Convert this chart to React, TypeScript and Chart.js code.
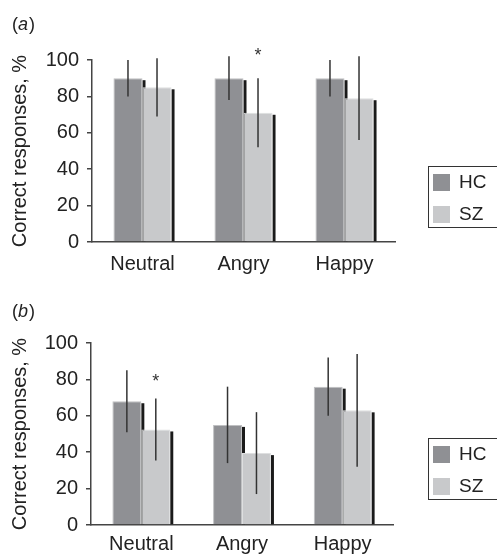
import React, { useEffect, useRef } from "react";
import { Chart, registerables } from "chart.js";

Chart.register(...registerables);

const categories = ["Neutral", "Angry", "Happy"];
const seriesNames = ["HC", "SZ"];
const yTicks = [0, 20, 40, 60, 80, 100];

// Panel (a)
const aHC = [90, 90, 90];
const aHCerr = [10, 12, 10];
const aSZ = [85, 71, 79];
const aSZerr = [16, 19, 23];
const aSZsig = [false, true, false];
const aHCsig = [false, false, false];

// Panel (b)
const bHC = [68, 55, 76];
const bHCerr = [17, 21, 16];
const bSZ = [52.5, 39.5, 63];
const bSZerr = [17, 22.5, 31];
const bSZsig = [true, false, false];
const bHCsig = [false, false, false];

const FONT = "'Liberation Sans', Arial, sans-serif";
const HC_COLOR = "#8f9094";
const HC_BORDER = "#bfc0c2";
const SZ_COLOR = "#c8c9cb";
const SZ_BORDER = "#dedfe0";

const shadowPlugin = {
  id: "barShadow",
  beforeDatasetsDraw(chart: any) {
    const ctx = chart.ctx;
    ctx.save();
    ctx.fillStyle = "#1a1a1a";
    chart.data.datasets.forEach((_: any, di: number) => {
      const meta = chart.getDatasetMeta(di);
      meta.data.forEach((bar: any) => {
        const right = bar.x + bar.width / 2;
        const top = bar.y + 2;
        ctx.fillRect(right, top, 3, bar.base - top);
      });
    });
    ctx.restore();
  },
};

const errorPlugin = {
  id: "errorBars",
  afterDatasetsDraw(chart: any) {
    const ctx = chart.ctx;
    const yScale = chart.scales.y;
    const starOffset = chart.options.plugins.decor.starOffset;
    ctx.save();
    chart.data.datasets.forEach((ds: any, di: number) => {
      const meta = chart.getDatasetMeta(di);
      meta.data.forEach((bar: any, i: number) => {
        const v = ds.data[i];
        const e = ds.errors[i];
        const yTop = yScale.getPixelForValue(v + e);
        const yBot = yScale.getPixelForValue(v - e);
        ctx.strokeStyle = "#333333";
        ctx.lineWidth = 1.5;
        ctx.beginPath();
        ctx.moveTo(bar.x, yTop);
        ctx.lineTo(bar.x, yBot);
        ctx.stroke();
        if (ds.sig[i]) {
          ctx.fillStyle = "#333333";
          ctx.font = `18px ${FONT}`;
          ctx.textAlign = "center";
          ctx.textBaseline = "alphabetic";
          ctx.fillText("*", bar.x, yTop - starOffset);
        }
      });
    });
    ctx.restore();
  },
};

const decorPlugin = {
  id: "decor",
  afterDraw(chart: any) {
    const ctx = chart.ctx;
    const o = chart.options.plugins.decor;
    ctx.save();
    // panel label
    ctx.fillStyle = "#222";
    ctx.textBaseline = "middle";
    ctx.textAlign = "left";
    ctx.font = `18px ${FONT}`;
    let x = o.labelX;
    ctx.fillText("(", x, o.labelY);
    x += ctx.measureText("(").width;
    ctx.font = `italic 18px ${FONT}`;
    ctx.fillText(o.label, x, o.labelY);
    x += ctx.measureText(o.label).width + 1;
    ctx.font = `18px ${FONT}`;
    ctx.fillText(")", x, o.labelY);

    // legend box
    const lx = o.legendX;
    const ly = o.legendY;
    ctx.strokeStyle = "#333";
    ctx.lineWidth = 1;
    ctx.strokeRect(lx + 0.5, ly + 0.5, 90, 61);
    const colors = [HC_COLOR, SZ_COLOR];
    chart.data.datasets.forEach((ds: any, i: number) => {
      const sy = ly + 8 + i * 32;
      ctx.fillStyle = colors[i];
      ctx.fillRect(lx + 5, sy, 17, 17);
      ctx.fillStyle = "#222";
      ctx.font = `19px ${FONT}`;
      ctx.textBaseline = "middle";
      ctx.fillText(ds.label, lx + 31, sy + 9);
    });
    ctx.restore();
  },
};

type PanelProps = {
  label: string;
  hc: number[];
  hcErr: number[];
  hcSig: boolean[];
  sz: number[];
  szErr: number[];
  szSig: boolean[];
  top: number;
  height: number;
  area: { left: number; top: number; right: number; bottom: number };
  labelY: number;
  legendY: number;
  xPad: number;
  starOffset: number;
};

function Panel(p: PanelProps) {
  const ref = useRef<HTMLCanvasElement>(null);
  useEffect(() => {
    if (!ref.current) return;
    const chart = new Chart(ref.current, {
      type: "bar",
      data: {
        labels: categories,
        datasets: [
          {
            label: seriesNames[0],
            data: p.hc,
            errors: p.hcErr,
            sig: p.hcSig,
            backgroundColor: HC_COLOR,
            borderColor: HC_BORDER,
            borderWidth: 1,
            borderSkipped: "bottom",
          } as any,
          {
            label: seriesNames[1],
            data: p.sz,
            errors: p.szErr,
            sig: p.szSig,
            backgroundColor: SZ_COLOR,
            borderColor: SZ_BORDER,
            borderWidth: 1,
            borderSkipped: "bottom",
          } as any,
        ],
      },
      options: {
        animation: false,
        responsive: false,
        maintainAspectRatio: false,
        datasets: { bar: { barPercentage: 1, categoryPercentage: 0.575 } },
        layout: {
          padding: {
            left: 0,
            top: p.area.top,
            right: 497 - p.area.right,
            bottom: 0,
          },
        },
        plugins: {
          legend: { display: false },
          tooltip: { enabled: false },
          decor: {
            label: p.label,
            labelX: 12,
            labelY: p.labelY,
            legendX: 428,
            legendY: p.legendY,
            starOffset: p.starOffset,
          },
        } as any,
        scales: {
          x: {
            grid: { display: false, drawTicks: false },
            border: { color: "#444", width: 1.5 },
            ticks: { color: "#222", font: { family: FONT, size: 20 }, padding: p.xPad },
            afterFit(scale: any) {
              scale.height = p.height - p.area.bottom;
            },
          },
          y: {
            min: 0,
            max: 100,
            afterBuildTicks(scale: any) {
              scale.ticks = yTicks.map((v) => ({ value: v }));
            },
            grid: { drawOnChartArea: false, drawTicks: true, tickLength: 5, color: "#444", lineWidth: 1.5 },
            border: { color: "#444", width: 1.5 },
            ticks: { color: "#222", font: { family: FONT, size: 20 }, padding: 8 },
            title: {
              display: true,
              text: "Correct responses, %",
              color: "#222",
              font: { family: FONT, size: 20 },
              padding: { top: 8, bottom: 0 },
            },
            afterFit(scale: any) {
              scale.width = p.area.left;
            },
          },
        },
      },
      plugins: [shadowPlugin, errorPlugin, decorPlugin],
    });
    return () => chart.destroy();
  }, []);
  return (
    <canvas
      ref={ref}
      width={497}
      height={p.height}
      style={{ position: "absolute", left: 0, top: p.top, width: 497, height: p.height }}
    />
  );
}

export default function App() {
  return (
    <div style={{ position: "fixed", left: 0, top: 0, width: 497, height: 555, background: "#fff" }}>
      <Panel
        label="a"
        hc={aHC}
        hcErr={aHCerr}
        hcSig={aHCsig}
        sz={aSZ}
        szErr={aSZerr}
        szSig={aSZsig}
        top={0}
        height={280}
        area={{ left: 92, top: 60, right: 395, bottom: 242 }}
        labelY={25}
        legendY={166}
        xPad={10}
        starOffset={17}
      />
      <Panel
        label="b"
        hc={bHC}
        hcErr={bHCerr}
        hcSig={bHCsig}
        sz={bSZ}
        szErr={bSZerr}
        szSig={bSZsig}
        top={280}
        height={275}
        area={{ left: 91, top: 63, right: 393, bottom: 245 }}
        labelY={32}
        legendY={158}
        xPad={7}
        starOffset={12}
      />
    </div>
  );
}
